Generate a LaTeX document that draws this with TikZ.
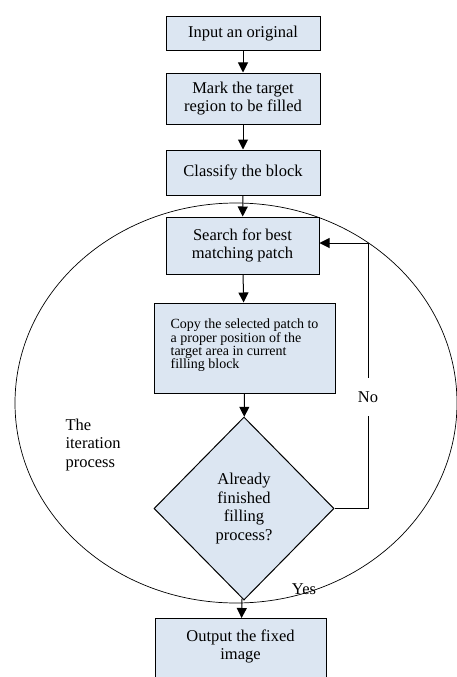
\documentclass[tikz,border=0pt]{standalone}
\usepackage{fontspec}
\setmainfont{Liberation Serif}
\usetikzlibrary{arrows.meta,positioning,shapes.geometric}
\definecolor{boxblue}{RGB}{220,230,242}

\begin{document}
\begin{tikzpicture}[
  x=1pt, y=-1pt,
  font=\fontsize{16.5}{18.5}\selectfont,
  proc/.style={draw, line width=1pt, fill=boxblue, rectangle, align=center, inner sep=2pt},
  decide/.style={draw, line width=1pt, fill=boxblue, diamond, aspect=1, align=center, inner sep=0pt,
                 minimum width=180pt, minimum height=183pt},
  flow/.style={-{Triangle[length=10pt,width=10pt]}, line width=1pt},
  ring/.style={line width=0.7pt}
]
\useasboundingbox (0,0) rectangle (456,677);

% --- iteration loop --------------------------------------------------------
\draw[ring] (236,403) ellipse [x radius=221, y radius=200];
\node[align=left] (iter) at (93,445) {The\\iteration\\process};

% --- nodes -----------------------------------------------------------------
\node[proc, minimum width=154pt, minimum height=34pt] (input) at (243,34) {Input an original};
\node[proc, minimum width=154pt, minimum height=51pt] (mark) at (243,98.5) {Mark the target\\region to be filled};
\node[proc, minimum width=154pt, minimum height=45pt] (classify) at (243,172.5) {Classify the block};
\node[proc, minimum width=153pt, minimum height=57pt] (search) at (242.5,245.5) {Search for best\\matching patch};
\node[proc, minimum width=181pt, minimum height=90pt, align=left, text depth=8pt,
      font=\fontsize{14}{13.4}\selectfont] (copy) at (244.5,348)
  {Copy the selected patch to\\a proper position of the\\target area in current\\filling block};
\node[decide] (dec) at (244,508.5) {Already\\finished\\filling\\process?};
\node[proc, minimum width=171pt, anchor=north, inner xsep=2pt, inner ysep=11pt, text depth=45pt] (out) at (240.5,618)
  {Output the fixed\\image};

% --- edges -----------------------------------------------------------------
\draw[flow] (input) -- (mark);
\draw[flow] (mark) -- (classify);
\draw[flow] (classify) -- (search);
\draw[flow] (search) -- (copy);
\draw[flow] (copy) -- (dec);
\draw[flow] (dec) -- (out);

\coordinate (back) at (368,243);
\draw[line width=1pt] (dec.east) -| node[pos=0.71, fill=white, inner xsep=1pt, inner ysep=14pt] (no) {No} (back);
\draw[flow] (back) -- (search.east |- back);

\node (yes) at (304,589) {Yes};
\end{tikzpicture}
\end{document}
